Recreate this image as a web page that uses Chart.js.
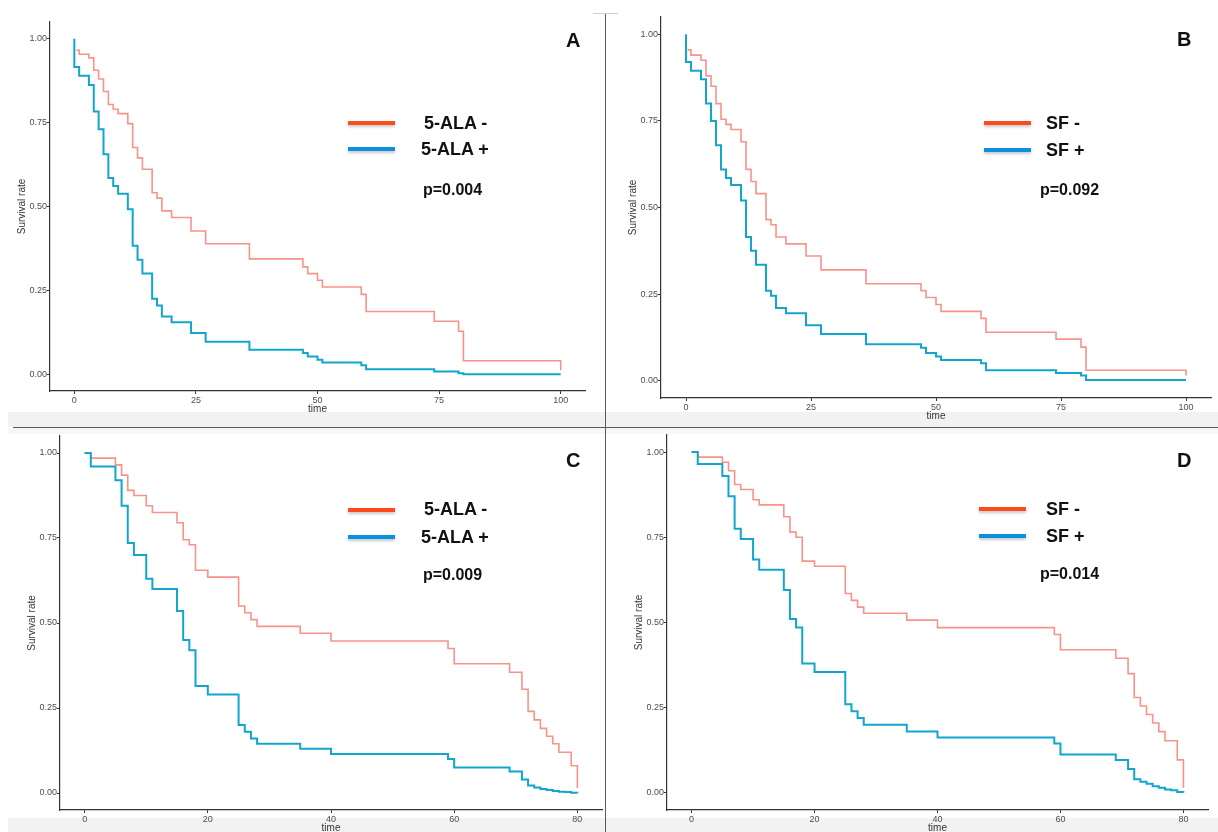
<!DOCTYPE html>
<html>
<head>
<meta charset="utf-8">
<script src="https://cdn.jsdelivr.net/npm/chart.js@4/dist/chart.umd.min.js"></script>
<style>
  html,body{margin:0;padding:0;background:#fff;overflow:hidden;}
  body{width:1218px;height:832px;position:relative;font-family:"Liberation Sans",Arial,sans-serif;}
  canvas{position:absolute;}
  .band{position:absolute;background:#f2f2f2;}
  .rule{position:absolute;background:#5a5a5a;}
  .lg{position:absolute;width:47px;height:3.5px;box-shadow:0 2px 3px rgba(0,0,0,0.22);}
  .lt{position:absolute;font-weight:bold;color:#111;white-space:nowrap;transform:translateY(-50%);}
</style>
</head>
<body>
<div class="band" style="left:8px;top:412px;width:1210px;height:15px;"></div>
<div class="band" style="left:8px;top:428px;width:1210px;height:6px;background:#f7f7f7;"></div>
<div class="band" style="left:8px;top:818px;width:1210px;height:14px;"></div>
<div class="rule" style="left:13px;top:427px;width:1205px;height:1px;"></div>
<div class="rule" style="left:605px;top:13px;width:1px;height:819px;"></div>
<div class="rule" style="left:593px;top:13px;width:25px;height:1px;background:#cfcfcf;"></div>

<canvas id="cA" width="585" height="403" style="left:10px;top:12px;"></canvas>
<canvas id="cB" width="600" height="415" style="left:621px;top:7px;"></canvas>
<canvas id="cC" width="592" height="408" style="left:20px;top:426px;"></canvas>
<canvas id="cD" width="591" height="409" style="left:627px;top:425px;"></canvas>

<!-- panel A -->
<div class="lg" style="left:348px;top:121px;background:#ff4b1c;"></div>
<div class="lg" style="left:348px;top:147px;background:#0a90dc;"></div>
<div class="lt" style="left:424px;top:123px;font-size:18px;">5-ALA -</div>
<div class="lt" style="left:421px;top:149px;font-size:18px;">5-ALA +</div>
<div class="lt" style="left:423px;top:190px;font-size:16px;">p=0.004</div>
<div class="lt" style="left:566px;top:40px;font-size:20px;">A</div>
<!-- panel B -->
<div class="lg" style="left:984px;top:121px;background:#ff4b1c;"></div>
<div class="lg" style="left:984px;top:148px;background:#0a90dc;"></div>
<div class="lt" style="left:1046px;top:123px;font-size:18px;">SF -</div>
<div class="lt" style="left:1046px;top:150px;font-size:18px;">SF +</div>
<div class="lt" style="left:1040px;top:190px;font-size:16px;">p=0.092</div>
<div class="lt" style="left:1177px;top:39px;font-size:20px;">B</div>
<!-- panel C -->
<div class="lg" style="left:348px;top:508px;background:#ff4b1c;"></div>
<div class="lg" style="left:348px;top:535px;background:#0a90dc;"></div>
<div class="lt" style="left:424px;top:509px;font-size:18px;">5-ALA -</div>
<div class="lt" style="left:421px;top:537px;font-size:18px;">5-ALA +</div>
<div class="lt" style="left:423px;top:575px;font-size:16px;">p=0.009</div>
<div class="lt" style="left:566px;top:460px;font-size:20px;">C</div>
<!-- panel D -->
<div class="lg" style="left:979px;top:507px;background:#ff4b1c;"></div>
<div class="lg" style="left:979px;top:534px;background:#0a90dc;"></div>
<div class="lt" style="left:1046px;top:509px;font-size:18px;">SF -</div>
<div class="lt" style="left:1046px;top:536px;font-size:18px;">SF +</div>
<div class="lt" style="left:1040px;top:574px;font-size:16px;">p=0.014</div>
<div class="lt" style="left:1177px;top:460px;font-size:20px;">D</div>

<script>
// tick labels
const xTicksAB = [0, 25, 50, 75, 100];
const xTicksCD = [0, 20, 40, 60, 80];
const yTicks = [0, 0.25, 0.5, 0.75, 1];

// A: 5-ALA - / 5-ALA +
const timeA_neg = [0.4, 1, 3, 4, 5, 6, 7, 8, 9, 11, 12, 13, 14, 16, 17, 18, 20, 24, 27, 36, 47, 48, 50, 51, 59, 60, 74, 79, 80, 100];
const survA_neg = [0.966, 0.954, 0.943, 0.906, 0.88, 0.843, 0.804, 0.79, 0.777, 0.747, 0.676, 0.645, 0.611, 0.541, 0.525, 0.487, 0.467, 0.427, 0.389, 0.344, 0.32, 0.30, 0.28, 0.26, 0.238, 0.187, 0.158, 0.128, 0.04, 0.012];
const timeA_pos = [0, 0, 1, 3, 4, 5, 6, 7, 8, 9, 11, 12, 13, 14, 16, 17, 18, 20, 24, 27, 36, 47, 48, 50, 51, 59, 60, 74, 79, 80, 100];
const survA_pos = [1, 0.916, 0.89, 0.862, 0.783, 0.73, 0.656, 0.585, 0.561, 0.538, 0.492, 0.383, 0.341, 0.30, 0.225, 0.205, 0.172, 0.155, 0.123, 0.097, 0.073, 0.063, 0.053, 0.043, 0.035, 0.027, 0.015, 0.008, 0.003, 0, 0];

// B: SF - / SF +
const timeB_neg = [0.3, 1, 3, 4, 5, 6, 7, 8, 9, 11, 12, 13, 14, 16, 17, 18, 20, 24, 27, 36, 47, 48, 50, 51, 59, 60, 74, 79, 80, 100];
const survB_neg = [0.955, 0.94, 0.925, 0.88, 0.85, 0.80, 0.755, 0.74, 0.725, 0.69, 0.61, 0.575, 0.54, 0.465, 0.45, 0.415, 0.395, 0.36, 0.32, 0.28, 0.26, 0.24, 0.22, 0.20, 0.18, 0.14, 0.12, 0.097, 0.03, 0.015];
const timeB_pos = [0, 0, 1, 3, 4, 5, 6, 7, 8, 9, 11, 12, 13, 14, 16, 17, 18, 20, 24, 27, 36, 47, 48, 50, 51, 59, 60, 74, 79, 80, 100];
const survB_pos = [1, 0.92, 0.895, 0.87, 0.80, 0.75, 0.68, 0.61, 0.585, 0.565, 0.52, 0.415, 0.375, 0.335, 0.26, 0.245, 0.21, 0.195, 0.16, 0.135, 0.105, 0.095, 0.08, 0.07, 0.06, 0.05, 0.03, 0.022, 0.015, 0.002, 0.002];

// C: 5-ALA - / 5-ALA +
const timeC_neg = [0, 1, 5, 6, 7, 8, 10, 11, 15, 16, 17, 18, 20, 25, 26, 27, 28, 35, 40, 59, 60, 69, 71, 72, 73, 74, 75, 76, 77, 79, 80];
const survC_neg = [1, 0.985, 0.965, 0.935, 0.89, 0.875, 0.845, 0.825, 0.795, 0.745, 0.73, 0.655, 0.635, 0.55, 0.53, 0.51, 0.49, 0.47, 0.447, 0.425, 0.38, 0.355, 0.305, 0.24, 0.215, 0.19, 0.167, 0.145, 0.12, 0.08, 0.015];
const timeC_pos = [0, 1, 5, 6, 7, 8, 10, 11, 15, 16, 17, 18, 20, 25, 26, 27, 28, 35, 40, 59, 60, 69, 71, 72, 73, 74, 75, 76, 77, 78, 79, 80];
const survC_pos = [1, 0.96, 0.92, 0.845, 0.735, 0.70, 0.63, 0.60, 0.535, 0.45, 0.42, 0.315, 0.29, 0.20, 0.18, 0.16, 0.145, 0.13, 0.115, 0.10, 0.075, 0.063, 0.04, 0.022, 0.016, 0.012, 0.009, 0.006, 0.004, 0.003, 0.001, 0];

// D: SF - / SF +
const timeD_neg = [0, 1, 5, 6, 7, 8, 10, 11, 15, 16, 17, 18, 20, 25, 26, 27, 28, 35, 40, 59, 60, 69, 71, 72, 73, 74, 75, 76, 77, 79, 80];
const survD_neg = [1, 0.985, 0.97, 0.945, 0.905, 0.89, 0.86, 0.845, 0.81, 0.765, 0.75, 0.68, 0.665, 0.585, 0.565, 0.545, 0.527, 0.507, 0.485, 0.465, 0.42, 0.395, 0.35, 0.28, 0.255, 0.23, 0.205, 0.18, 0.153, 0.097, 0.015];
const timeD_pos = [0, 1, 5, 6, 7, 8, 10, 11, 15, 16, 17, 18, 20, 25, 26, 27, 28, 35, 40, 59, 60, 69, 71, 72, 73, 74, 75, 76, 77, 78, 79, 80];
const survD_pos = [1, 0.965, 0.93, 0.87, 0.775, 0.745, 0.685, 0.655, 0.595, 0.51, 0.485, 0.38, 0.355, 0.26, 0.24, 0.22, 0.20, 0.18, 0.163, 0.145, 0.113, 0.097, 0.07, 0.04, 0.033, 0.027, 0.02, 0.015, 0.01, 0.008, 0.003, 0.001];

Chart.defaults.font.family = '"Liberation Sans", Arial, sans-serif';
const RED = '#f8938a', BLUE = '#12a6cf', AXIS = '#333';

const pts = (t, s) => t.map((x, i) => ({x, y: s[i]}));

function km(id, xMin, xMax, xTicks, tNeg, sNeg, tPos, sPos){
  new Chart(document.getElementById(id), {
    type: 'line',
    data: { datasets: [
      {label:'pos', data: pts(tPos, sPos), borderColor: BLUE, borderWidth: 2, stepped: true, pointRadius: 0, fill: false},
      {label:'neg', data: pts(tNeg, sNeg), borderColor: RED, borderWidth: 1.6, stepped: true, pointRadius: 0, fill: false}
    ]},
    options: {
      responsive: false, animation: false,
      layout: {padding: {top: 10, right: 10, left: 0, bottom: 0}},
      plugins: {legend: {display: false}, tooltip: {enabled: false}},
      scales: {
        x: {
          type: 'linear', min: xMin, max: xMax,
          afterBuildTicks: s => { s.ticks = xTicks.map(v => ({value: v})); },
          afterFit: s => { s.height = 24; },
          ticks: {font: {size: 9}, color: '#4d4d4d', padding: 1, maxRotation: 0, autoSkip: false},
          grid: {display: true, drawOnChartArea: false, drawTicks: true, tickLength: 3, color: AXIS},
          border: {display: true, color: AXIS, width: 1.2},
          title: {display: true, text: 'time', font: {size: 10}, color: '#333', padding: {top: 0, bottom: 0}}
        },
        y: {
          type: 'linear', min: -0.05, max: 1.05,
          afterBuildTicks: s => { s.ticks = yTicks.map(v => ({value: v})); },
          afterFit: s => { s.width = 40; },
          ticks: {font: {size: 9}, color: '#4d4d4d', padding: 0, callback: v => v.toFixed(2)},
          grid: {display: true, drawOnChartArea: false, drawTicks: true, tickLength: 3, color: AXIS},
          border: {display: true, color: AXIS, width: 1.2},
          title: {display: true, text: 'Survival rate', font: {size: 10}, color: '#333', padding: {top: 6, bottom: 0}}
        }
      }
    }
  });
}

km('cA', -5, 105, xTicksAB, timeA_neg, survA_neg, timeA_pos, survA_pos);
km('cB', -5, 105, xTicksAB, timeB_neg, survB_neg, timeB_pos, survB_pos);
km('cC', -4, 84, xTicksCD, timeC_neg, survC_neg, timeC_pos, survC_pos);
km('cD', -4, 84, xTicksCD, timeD_neg, survD_neg, timeD_pos, survD_pos);
</script>
</body>
</html>
